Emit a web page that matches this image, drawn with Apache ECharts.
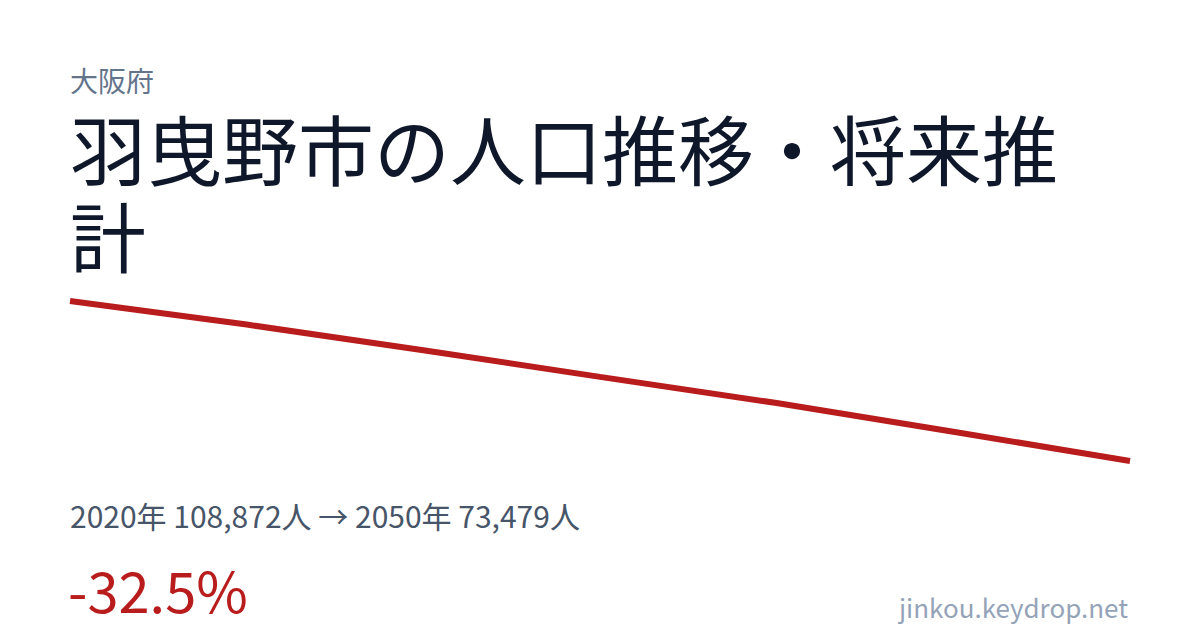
<!DOCTYPE html>
<html>
<head>
<meta charset="utf-8">
<script src="https://cdn.jsdelivr.net/npm/echarts@6/dist/echarts.min.js"></script>
<style>
  html, body { margin: 0; padding: 0; background: #fff; }
  #chart { width: 1200px; height: 630px; }
</style>
</head>
<body>
<div id="chart"></div>
<script>
// population trend, Habikino city
var years = ['2020', '2025', '2030', '2035', '2040', '2045', '2050'];
var population = [108872, 103660, 97990, 92090, 86300, 79950, 73479];

var font = '"Noto Sans CJK JP", "Noto Sans", sans-serif';

var myChart = echarts.init(document.getElementById('chart'), null, { renderer: 'svg' });

var option = {
    backgroundColor: '#ffffff',
    animation: false,
    grid: {
        left: 70,
        right: 70,
        top: 301,
        height: 160
    },
    xAxis: {
        type: 'category',
        data: years,
        boundaryGap: false,
        show: false
    },
    yAxis: {
        type: 'value',
        min: 73479,
        max: 108872,
        show: false
    },
    graphic: [
        {
            type: 'text', x: 70, y: 80,
            style: { text: '大阪府', fontSize: 28, lineHeight: 28, fontFamily: font, fill: '#64748b', verticalAlign: 'middle' }
        },
        {
            type: 'text', x: 70, y: 147,
            style: { text: '羽曳野市の人口推移・将来推', fontSize: 76, lineHeight: 76, fontFamily: font, fill: '#0f172a', verticalAlign: 'middle' }
        },
        {
            type: 'text', x: 70, y: 234,
            style: { text: '計', fontSize: 76, lineHeight: 76, fontFamily: font, fill: '#0f172a', verticalAlign: 'middle' }
        },
        {
            type: 'text', x: 70, y: 515,
            style: { text: '2020年 108,872人 → 2050年 73,479人', fontSize: 30, lineHeight: 30, fontFamily: font, fill: '#475569', verticalAlign: 'middle' }
        },
        {
            type: 'text', x: 68, y: 588,
            style: { text: '-32.5%', fontSize: 56, lineHeight: 56, fontFamily: font, fill: '#b91c1c', verticalAlign: 'middle' }
        },
        {
            type: 'text', x: 1128, y: 606,
            style: { text: 'jinkou.keydrop.net', fontSize: 26, lineHeight: 26, fontFamily: font, fill: '#94a3b8', align: 'right', verticalAlign: 'middle' }
        }
    ],
    series: [{
        type: 'line',
        data: population,
        symbol: 'none',
        clip: false,
        lineStyle: { color: '#b91c1c', width: 6 }
    }]
};

myChart.setOption(option);
</script>
</body>
</html>
